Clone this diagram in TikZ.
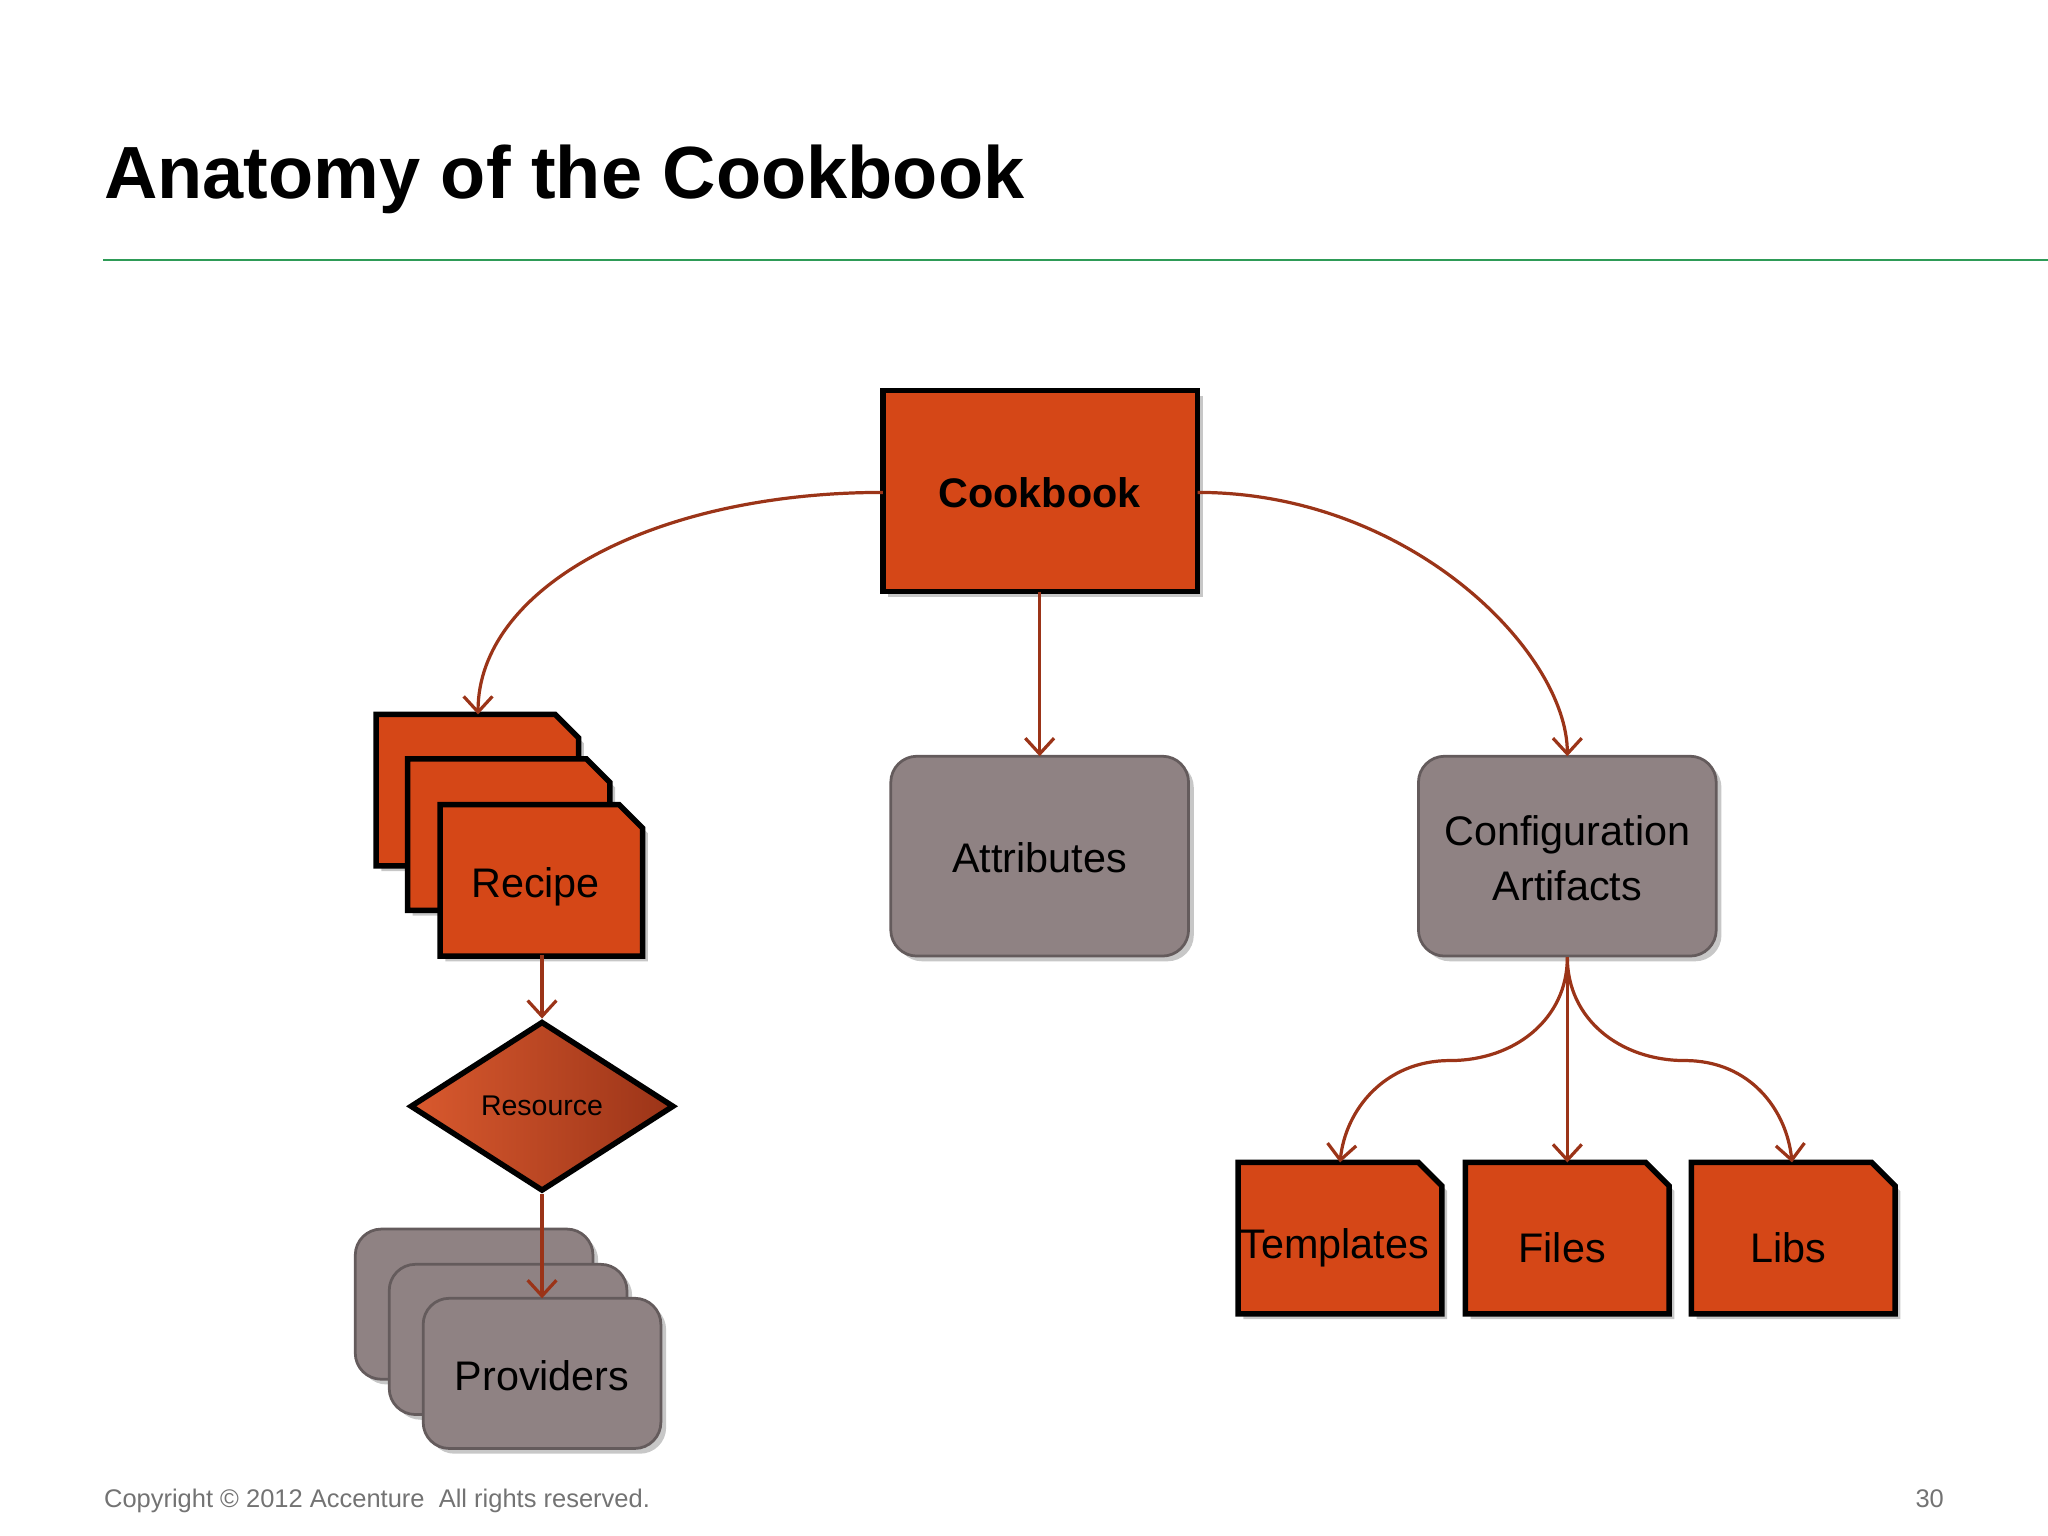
\documentclass[tikz,border=0pt]{standalone}
\usepackage{fontspec}
\setmainfont{Liberation Sans}
\usetikzlibrary{shapes.geometric,arrows.meta}
\definecolor{org}{HTML}{D54717}
\definecolor{gry}{HTML}{8F8283}
\definecolor{arr}{HTML}{9B3418}
\definecolor{grn}{HTML}{2E9B57}
\begin{document}
\begin{tikzpicture}[x=0.01cm,y=-0.01cm,
 ob/.style={fill=org,draw=black,line width=1.2pt},
 gb/.style={fill=gry,draw=gry!70!black,line width=0.6pt,rounded corners=0.2cm},
 sh/.style={fill=black!22},
 lbl/.style={font=\fontsize{9}{10}\selectfont},
 ar/.style={draw=arr,line width=0.7pt,-{Straight Barb[length=0.12cm,width=0.22cm]}}]
\useasboundingbox (0,0) rectangle (1568,1176);
\node[anchor=base west,inner sep=0,font=\fontsize{16.1}{18}\selectfont\bfseries] (title) at (79,152) {Anatomy of the Cookbook};
\draw[grn,line width=0.6pt] (79,199) -- (1568,199);
% Cookbook
\fill[sh] (680,303) rectangle (921,457);
\draw[ob] (676,299) rectangle (917,453);
\node[font=\fontsize{9}{10}\selectfont\bfseries] (cb) at (796,377) {Cookbook};
\coordinate (cbl) at (676,377); \coordinate (cbr) at (917,377); \coordinate (cbb) at (796,453);
% Recipes
\foreach \x/\y in {288/547,312/581,337/616}{
 \fill[sh] (\x+4,\y+120) -- (\x+4,\y+4) -- (\x+141,\y+4) -- (\x+159,\y+22) -- (\x+159,\y+120) -- cycle;
 \draw[ob] (\x,\y+116) -- (\x,\y) -- (\x+137,\y) -- (\x+155,\y+18) -- (\x+155,\y+116) -- cycle;}
\node[lbl] (recipe) at (410,679) {Recipe};
\coordinate (rtop) at (366,547); \coordinate (rbot) at (415,731);
% Attributes / Config
\fill[sh,rounded corners=0.2cm] (686,583) rectangle (914,736);
\draw[gb] (682,579) rectangle (910,732);
\node[lbl] (attr) at (796,657) {Attributes};
\coordinate (atop) at (796,579);
\fill[sh,rounded corners=0.2cm] (1090,583) rectangle (1318,736);
\draw[gb] (1086,579) rectangle (1314,732);
\node[lbl,align=center] (conf) at (1200,657) {Configuration\\[2pt]Artifacts};
\coordinate (ctop) at (1200,579); \coordinate (cbot) at (1200,733);
% Resource
\node[diamond,minimum width=2.02cm,minimum height=1.3cm,aspect=1.56,inner sep=0,
 left color=org!90!white,right color=arr,draw=black,line width=1.2pt,
 font=\fontsize{6.2}{7}\selectfont] (res) at (415,847) {Resource};
% Providers
\foreach \x/\y in {272/941,298/968,324/994}{
 \fill[sh,rounded corners=0.2cm] (\x+4,\y+4) rectangle (\x+186,\y+119);
 \draw[gb] (\x,\y) rectangle (\x+182,\y+115);}
\node[lbl] (prov) at (415,1053) {Providers};
\coordinate (ptop) at (415,994);
% Templates Files Libs
\foreach \x/\n/\t in {948/tpl/Templates,1122/fil/Files,1295/lib/Libs}{
 \fill[sh] (\x+4,1010) -- (\x+4,894) -- (\x+142,894) -- (\x+160,912) -- (\x+160,1010) -- cycle;
 \draw[ob] (\x,1006) -- (\x,890) -- (\x+138,890) -- (\x+156,908) -- (\x+156,1006) -- cycle;
 \node[lbl] (\n) at (\x+74,955) {\t};}
\coordinate (ttop) at (1026,890); \coordinate (ftop) at (1200,890); \coordinate (ltop) at (1372,890);
% arrows
\draw[ar] (cbl) .. controls (500,377) and (366,450) .. (rtop);
\draw[ar] (cbr) .. controls (1080,377) and (1200,500) .. (ctop);
\draw[ar] (cbb) -- (atop);
\draw[ar] (rbot) -- (res.north);
\draw[ar] (res.south) -- (ptop);
\draw[ar] (cbot) .. controls (1200,780) and (1160,812) .. (1110,812) .. controls (1060,812) and (1030,850) .. (ttop);
\draw[ar] (cbot) -- (ftop);
\draw[ar] (cbot) .. controls (1200,780) and (1240,812) .. (1290,812) .. controls (1340,812) and (1368,850) .. (ltop);
% footer
\node[anchor=base west,inner sep=0,text=black!55,font=\fontsize{5.55}{7}\selectfont] (copy) at (79,1154) {Copyright © 2012 Accenture\ \ All rights reserved.};
\node[anchor=base east,inner sep=0,text=black!55,font=\fontsize{5.55}{7}\selectfont] (pg) at (1489,1154) {30};
\end{tikzpicture}
\end{document}
